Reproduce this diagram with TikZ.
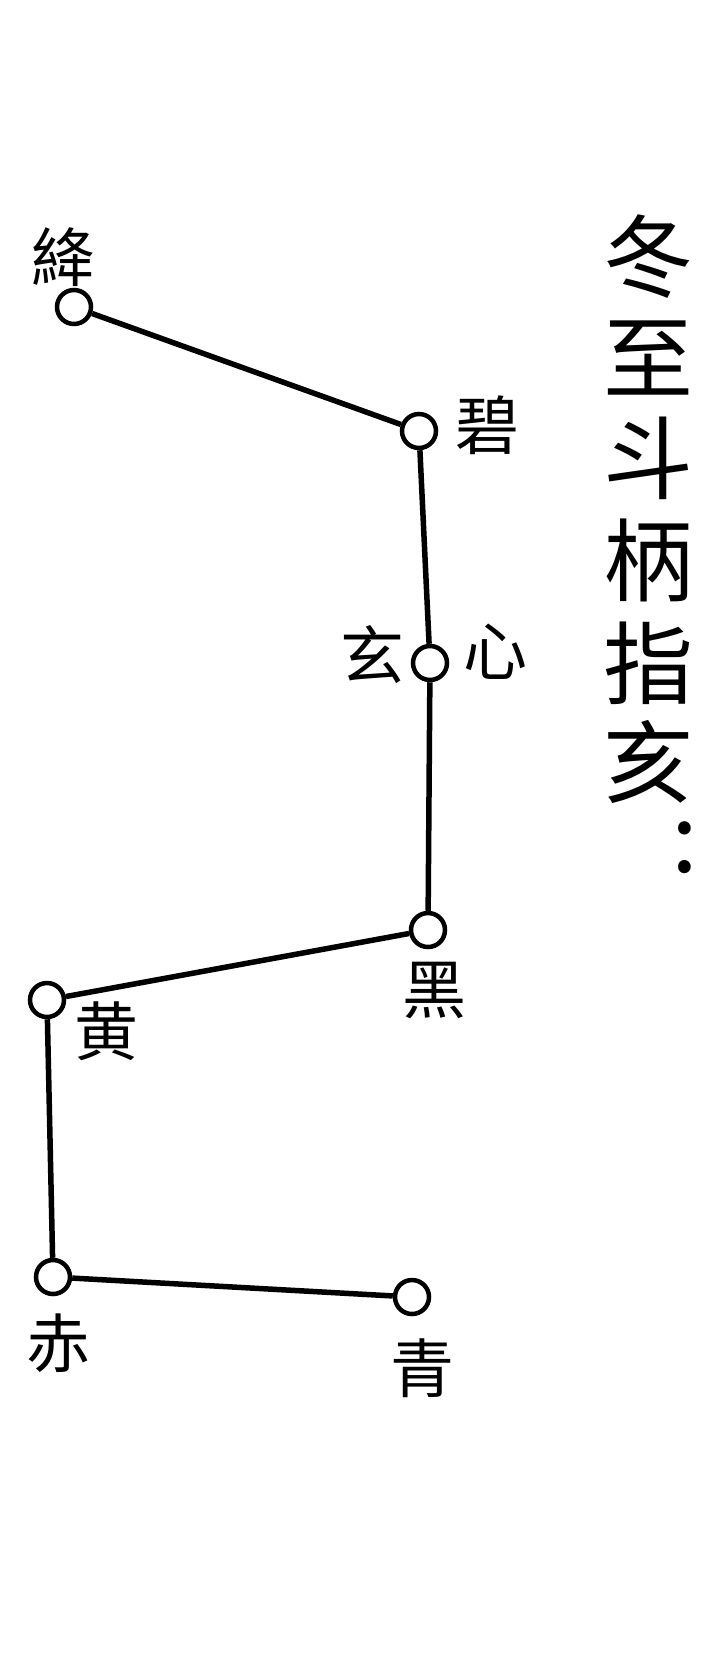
\documentclass[tikz,border=0pt]{standalone}
\usepackage{fontspec}
\newfontfamily\cjk{Noto Sans CJK SC}
\begin{document}
\begin{tikzpicture}[x=1pt,y=-1pt,
  star/.style={circle,draw,line width=4.5pt,minimum size=34pt,inner sep=0pt,fill=white},
  lbl/.style={inner sep=0pt,font=\cjk\fontsize{64}{64}\selectfont},
  ttl/.style={inner sep=0pt,font=\cjk\fontsize{90}{90}\selectfont},
  link/.style={line width=5.5pt}]
\useasboundingbox[fill=white] (0,0) rectangle (710,1655);
% stars
\node[star] (jiang) at (74,307) {};
\node[star] (bi) at (419,431) {};
\node[star] (xin) at (430,663) {};
\node[star] (hei) at (428,930) {};
\node[star] (huang) at (47,1000) {};
\node[star] (chi) at (53,1277) {};
\node[star] (qing) at (412,1297) {};
% connectors
\draw[link] (jiang) -- (bi);
\draw[link] (bi) -- (xin);
\draw[link] (xin) -- (hei);
\draw[link] (hei) -- (huang);
\draw[link] (huang) -- (chi);
\draw[link] (chi) -- (qing);
% labels
\node[lbl] (ljiang) at (63,257) {絳};
\node[lbl] (lbi) at (487,425) {碧};
\node[lbl] (lxuan) at (372,655) {玄};
\node[lbl] (lxin) at (495,652) {心};
\node[lbl] (lhei) at (434,991) {黑};
\node[lbl] (lhuang) at (106,1031) {黄};
\node[lbl] (lchi) at (59,1343) {赤};
\node[lbl] (lqing) at (422,1368) {青};
% title
\node[ttl] (t1) at (648,257) {冬};
\node[ttl] (t2) at (648,358) {至};
\node[ttl] (t3) at (648,458) {斗};
\node[ttl] (t4) at (648,560) {柄};
\node[ttl] (t5) at (648,663) {指};
\node[ttl] (t6) at (648,762) {亥};
\node[ttl,font=\cjk\fontsize{96}{96}\selectfont] (t7) at (685,848) {:};
\end{tikzpicture}
\end{document}
